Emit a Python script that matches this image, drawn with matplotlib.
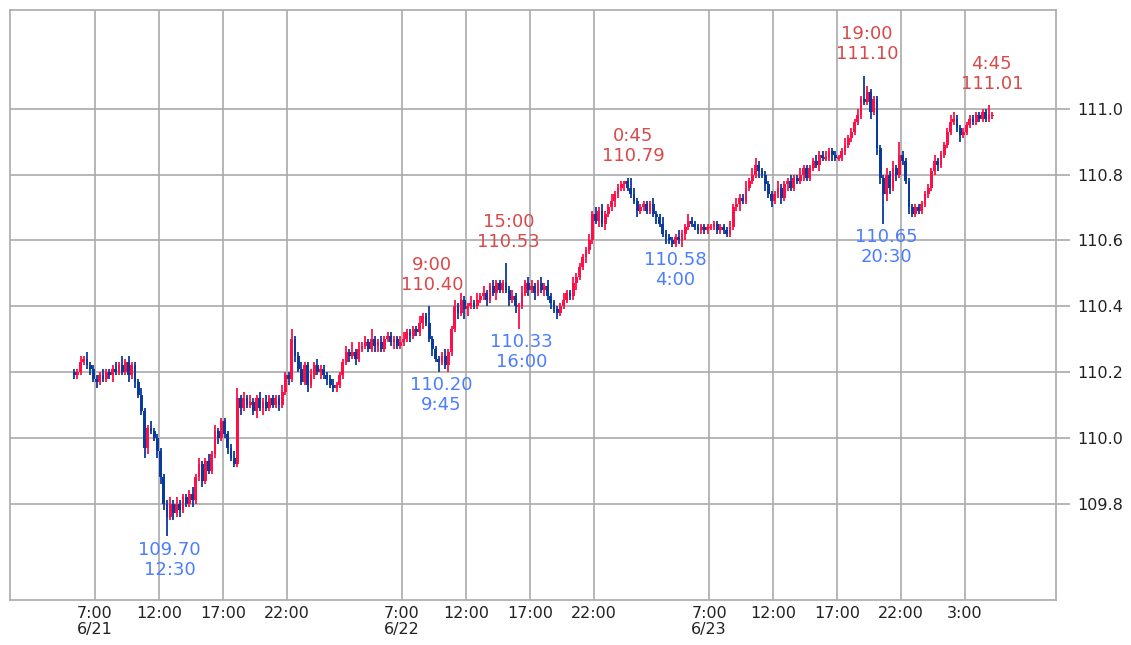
import matplotlib
matplotlib.use("Agg")
import matplotlib.pyplot as plt
import matplotlib.dates as mdates
import pandas as pd
import numpy as np

# ---------------- data: USD/JPY 15-minute candles ----------------
start_time = "2021-06-21 05:15"
first_open = 110.20

# closes, 4 per hour
close_0621 = [
    110.19, 110.20, 110.23,            # 5:15-5:45
    110.24, 110.22, 110.21, 110.18,    # 6
    110.17, 110.19, 110.18, 110.20,    # 7
    110.19, 110.21, 110.20, 110.22,    # 8
    110.20, 110.23, 110.19, 110.22,    # 9
    110.17, 110.13, 110.08, 109.97,    # 10
    110.03, 110.02, 110.00, 109.96,    # 11
    109.88, 109.80, 109.76, 109.80,    # 12
    109.77, 109.80, 109.78, 109.82,    # 13
    109.80, 109.83, 109.81, 109.88,    # 14
    109.92, 109.87, 109.93, 109.90,    # 15
    109.95, 110.02, 110.00, 110.05,    # 16
    110.01, 109.97, 109.94, 109.92,    # 17
    110.12, 110.09, 110.12, 110.10,    # 18
    110.11, 110.08, 110.12, 110.09,    # 19
    110.11, 110.09, 110.12, 110.10,    # 20
    110.12, 110.10, 110.14, 110.19,    # 21
    110.18, 110.30, 110.25, 110.21,    # 22
    110.17, 110.22, 110.16, 110.19,    # 23
]
close_0622 = [
    110.22, 110.20, 110.21, 110.19,    # 0
    110.18, 110.16, 110.15, 110.16,    # 1
    110.19, 110.23, 110.26, 110.25,    # 2
    110.26, 110.24, 110.27, 110.28,    # 3
    110.29, 110.27, 110.30, 110.28,    # 4
    110.29, 110.27, 110.30, 110.31,    # 5
    110.29, 110.30, 110.28, 110.29,    # 6
    110.30, 110.32, 110.31, 110.33,    # 7
    110.32, 110.35, 110.37, 110.35,    # 8
    110.30, 110.27, 110.24, 110.23,    # 9
    110.25, 110.22, 110.26, 110.33,    # 10
    110.40, 110.38, 110.42, 110.39,    # 11
    110.40, 110.41, 110.40, 110.42,    # 12
    110.43, 110.44, 110.42, 110.46,    # 13
    110.44, 110.47, 110.45, 110.47,    # 14
    110.45, 110.42, 110.43, 110.40,    # 15
    110.40, 110.44, 110.47, 110.45,    # 16
    110.46, 110.44, 110.47, 110.45,    # 17
    110.46, 110.43, 110.41, 110.39,    # 18
    110.38, 110.40, 110.42, 110.44,    # 19
    110.43, 110.47, 110.49, 110.52,    # 20
    110.55, 110.57, 110.60, 110.68,    # 21
    110.66, 110.69, 110.65, 110.68,    # 22
    110.70, 110.72, 110.74, 110.76,    # 23
]
close_0623 = [
    110.77, 110.78, 110.76, 110.74,    # 0
    110.72, 110.69, 110.70, 110.71,    # 1
    110.69, 110.71, 110.68, 110.67,    # 2
    110.65, 110.62, 110.61, 110.60,    # 3
    110.59, 110.61, 110.60, 110.62,    # 4
    110.64, 110.66, 110.65, 110.64,    # 5
    110.63, 110.64, 110.63, 110.64,    # 6
    110.64, 110.65, 110.63, 110.64,    # 7
    110.63, 110.62, 110.64, 110.70,    # 8
    110.71, 110.73, 110.72, 110.76,    # 9
    110.78, 110.80, 110.83, 110.81,    # 10
    110.80, 110.77, 110.74, 110.72,    # 11
    110.74, 110.76, 110.73, 110.77,    # 12
    110.78, 110.76, 110.79, 110.78,    # 13
    110.80, 110.82, 110.79, 110.82,    # 14
    110.84, 110.83, 110.86, 110.85,    # 15
    110.85, 110.87, 110.86, 110.85,    # 16
    110.85, 110.87, 110.89, 110.91,    # 17
    110.93, 110.96, 110.98, 111.03,    # 18
    111.02, 111.05, 110.99, 111.03,    # 19
    110.88, 110.79, 110.74, 110.80,    # 20
    110.76, 110.82, 110.80, 110.86,    # 21
    110.84, 110.78, 110.70, 110.68,    # 22
    110.70, 110.69, 110.71, 110.74,    # 23
]
close_0624 = [
    110.76, 110.81, 110.84, 110.83,    # 0
    110.86, 110.89, 110.93, 110.96,    # 1
    110.97, 110.94, 110.92, 110.93,    # 2
    110.95, 110.97, 110.96, 110.98,    # 3
    110.97, 110.99, 110.97, 110.98,    # 4
    110.98,                            # 5:00
]

# wick lengths in pips (0.01) above the body / below the body
up_0621 = [1, 1, 2,  1, 2, 1, 1,  1, 1, 2, 1,  1, 1, 2, 1,  3, 1, 2, 1,
           1, 1, 2, 1,  1, 2, 1, 1,  1, 1, 1, 2,  1, 2, 1, 1,  1, 1, 2, 1,
           2, 1, 1, 2,  1, 2, 1, 1,  1, 1, 1, 2,  3, 1, 2, 1,  2, 1, 1, 2,
           1, 2, 1, 1,  1, 1, 2, 1,  1, 3, 1, 1,  2, 1, 1, 2]
dn_0621 = [1, 1, 1,  1, 1, 2, 1,  2, 1, 1, 1,  1, 2, 1, 1,  1, 1, 2, 1,
           2, 1, 1, 3,  2, 1, 1, 2,  2, 2, 6, 1,  2, 1, 2, 1,  1, 1, 2, 1,
           1, 2, 1, 1,  1, 1, 2, 1,  1, 2, 1, 1,  1, 2, 1, 1,  1, 1, 2, 1,
           2, 1, 1, 1,  1, 2, 1, 1,  2, 1, 2, 1,  1, 1, 2, 1]
up_0622 = [1, 2, 1, 1,  1, 1, 2, 1,  1, 1, 2, 1,  3, 1, 2, 1,  2, 1, 3, 1,
           1, 2, 1, 1,  1, 1, 1, 2,  2, 1, 1, 1,  1, 2, 1, 1,  5, 1, 1, 1,
           1, 2, 1, 1,  2, 1, 2, 1,  1, 2, 1, 2,  1, 2, 1, 1,  2, 1, 1, 1,
           6, 1, 2, 1,  1, 2, 1, 2,  2, 1, 1, 2,  1, 2, 1, 1,  1, 1, 2, 1,
           1, 2, 1, 1,  1, 1, 2, 1,  2, 1, 2, 1,  1, 2, 1, 1]
dn_0622 = [1, 1, 2, 1,  2, 1, 1, 1,  1, 1, 1, 2,  1, 2, 1, 1,  1, 1, 1, 2,
           2, 1, 1, 1,  1, 2, 1, 1,  1, 1, 2, 1,  1, 1, 2, 1,  1, 2, 1, 3,
           1, 1, 2, 1,  1, 2, 1, 3,  2, 1, 1, 1,  1, 1, 2, 1,  1, 2, 1, 1,
           1, 2, 1, 2,  7, 1, 1, 2,  1, 2, 1, 1,  2, 1, 2, 1,  2, 1, 1, 1,
           1, 1, 2, 1,  1, 2, 1, 1,  1, 2, 1, 2,  1, 1, 2, 1]
up_0623 = [1, 0, 1, 3,  2, 1, 1, 1,  1, 1, 2, 1,  1, 2, 1, 1,  1, 1, 2, 1,
           1, 2, 1, 1,  1, 1, 1, 1,  1, 1, 1, 1,  1, 1, 2, 1,  2, 1, 1, 2,
           1, 2, 2, 1,  1, 1, 1, 1,  1, 2, 1, 1,  1, 2, 1, 1,  2, 1, 1, 1,
           1, 2, 1, 1,  2, 1, 1, 1,  1, 1, 2, 1,  1, 1, 2, 1,  7, 2, 1, 1,
           1, 1, 1, 2,  1, 2, 1, 4,  1, 1, 1, 1,  1, 1, 1, 1]
dn_0623 = [1, 2, 1, 1,  1, 2, 1, 1,  1, 1, 1, 2,  1, 1, 2, 1,  1, 1, 1, 2,
           2, 1, 1, 1,  1, 1, 1, 1,  1, 1, 1, 1,  1, 1, 1, 1,  1, 2, 1, 1,
           1, 1, 1, 2,  1, 2, 1, 2,  1, 1, 2, 1,  2, 1, 1, 1,  1, 2, 1, 1,
           1, 1, 2, 1,  1, 1, 2, 1,  1, 1, 1, 1,  1, 1, 1, 1,  1, 1, 2, 1,
           2, 2, 9, 2,  2, 1, 2, 1,  1, 1, 2, 1,  1, 1, 1, 1]
up_0624 = [1, 1, 2, 1,  1, 1, 1, 2,  2, 1, 1, 1,  1, 1, 1, 1,  1, 1, 1, 3,  1]
dn_0624 = [1, 1, 1, 2,  1, 1, 1, 1,  1, 1, 2, 1,  1, 1, 1, 1,  1, 1, 1, 1,  1]

# annotated extremes
high_times = ["2021-06-22 09:00", "2021-06-22 15:00", "2021-06-23 00:45",
              "2021-06-23 19:00", "2021-06-24 04:45"]
high_values = [110.40, 110.53, 110.79, 111.10, 111.01]
low_times = ["2021-06-21 12:30", "2021-06-22 09:45", "2021-06-22 16:00",
             "2021-06-23 04:00", "2021-06-23 20:30"]
low_values = [109.70, 110.20, 110.33, 110.58, 110.65]

# axis ticks
x_tick_times = ["2021-06-21 07:00", "2021-06-21 12:00", "2021-06-21 17:00", "2021-06-21 22:00",
                "2021-06-22 07:00", "2021-06-22 12:00", "2021-06-22 17:00", "2021-06-22 22:00",
                "2021-06-23 07:00", "2021-06-23 12:00", "2021-06-23 17:00", "2021-06-23 22:00",
                "2021-06-24 03:00"]
x_tick_labels = ["7:00\n6/21", "12:00", "17:00", "22:00",
                 "7:00\n6/22", "12:00", "17:00", "22:00",
                 "7:00\n6/23", "12:00", "17:00", "22:00", "3:00"]
y_ticks = [109.8, 110.0, 110.2, 110.4, 110.6, 110.8, 111.0]

# ---------------- build OHLC ----------------
close = np.array(close_0621 + close_0622 + close_0623 + close_0624)
up = np.array(up_0621 + up_0622 + up_0623 + up_0624) * 0.01
dn = np.array(dn_0621 + dn_0622 + dn_0623 + dn_0624) * 0.01
opens = np.concatenate([[first_open], close[:-1]])
high = np.maximum(opens, close) + up
low = np.minimum(opens, close) - dn
times = pd.date_range(start_time, periods=len(close), freq="15min")
half_bar = pd.Timedelta(minutes=7.5)
xc = mdates.date2num((times + half_bar).to_pydatetime())

RED = "#ff0f47"
BLUE = "#0a3a9c"
TXT_RED = "#d84a4a"
TXT_BLUE = "#4a7dff"
GRID = "#aaaaaa"

fig = plt.figure(figsize=(11.31, 6.45), dpi=100)
ax = fig.add_axes([10 / 1131, 45 / 645, 1046 / 1131, 590 / 645])

is_up = close >= opens
colors = np.where(is_up, RED, BLUE)
ax.vlines(xc, low, high, colors=colors, linewidth=1.3, zorder=3)
body_h = np.maximum(np.abs(close - opens), 0.004)
body_b = np.minimum(opens, close)
body_b = np.where(np.abs(close - opens) < 0.004, close - 0.002, body_b)
ax.bar(xc, body_h, bottom=body_b, width=0.22 / 24, color=colors,
       linewidth=0, zorder=4)

# annotations
for t, v in zip(high_times, high_values):
    ts = pd.Timestamp(t)
    x = mdates.date2num((ts + half_bar).to_pydatetime())
    ax.annotate(f"{ts.hour}:{ts.minute:02d}\n{v:.2f}", (x, v),
                xytext=(2, 9), textcoords="offset points",
                ha="center", va="bottom", color=TXT_RED, fontsize=13,
                linespacing=1.15, zorder=5)
for t, v in zip(low_times, low_values):
    ts = pd.Timestamp(t)
    x = mdates.date2num((ts + half_bar).to_pydatetime())
    ax.annotate(f"{v:.2f}\n{ts.hour}:{ts.minute:02d}", (x, v),
                xytext=(2, -3), textcoords="offset points",
                ha="center", va="top", color=TXT_BLUE, fontsize=13,
                linespacing=1.15, zorder=5)

# axes styling
t0 = pd.Timestamp("2021-06-21 00:00")
ax.set_xlim(mdates.date2num((t0 + pd.Timedelta(hours=0.356)).to_pydatetime()),
            mdates.date2num((t0 + pd.Timedelta(hours=82.11)).to_pydatetime()))
ax.set_ylim(109.507, 111.30)
ax.set_xticks(mdates.date2num(pd.to_datetime(x_tick_times).to_pydatetime()))
ax.set_xticklabels(x_tick_labels)
ax.set_yticks(y_ticks)
ax.set_yticklabels([f"{v:.1f}" for v in y_ticks])
ax.yaxis.tick_right()
ax.tick_params(axis="y", length=10, width=1.2, color=GRID, pad=5,
               labelsize=11.5, labelcolor="#222222")
ax.tick_params(axis="x", length=0, pad=4, labelsize=11.5, labelcolor="#222222")
for lbl in ax.get_xticklabels():
    lbl.set_linespacing(1.1)
ax.grid(True, color=GRID, linewidth=1.2)
ax.set_axisbelow(True)
for sp in ax.spines.values():
    sp.set_color(GRID)
    sp.set_linewidth(1.2)

fig.savefig("out.png", dpi=100, facecolor="white")
